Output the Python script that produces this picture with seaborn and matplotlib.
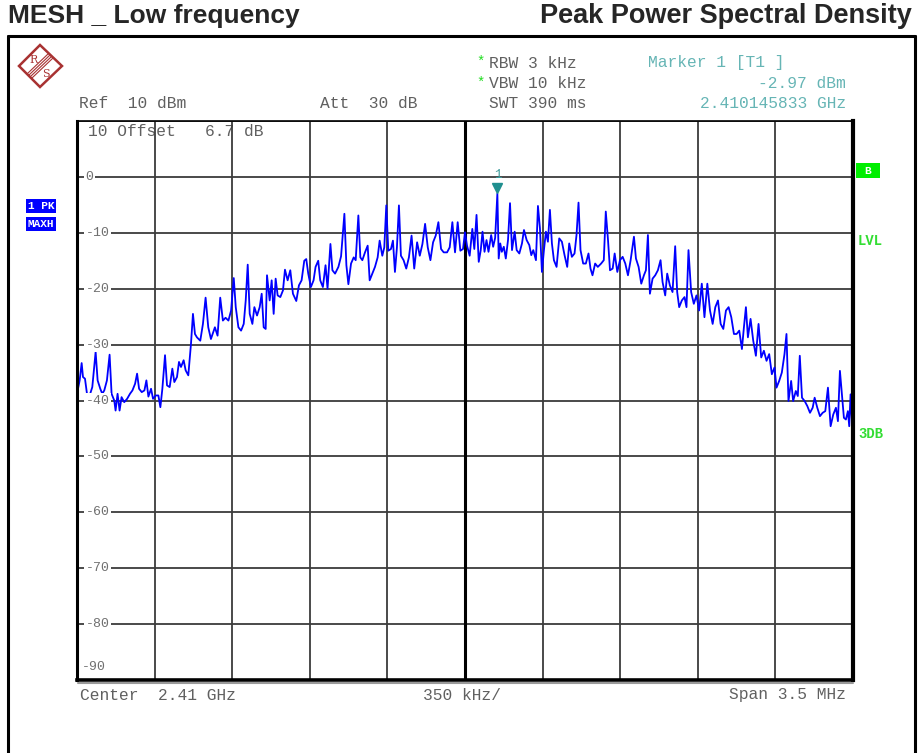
import numpy as np
import pandas as pd
import seaborn as sns
import matplotlib.pyplot as plt
from matplotlib.lines import Line2D
from matplotlib.patches import Polygon, Rectangle
from matplotlib.transforms import offset_copy, blended_transform_factory

# trace: offset from span start (kHz) and level (dBm)
freq_khz = [
    3, 12, 21, 27, 36, 45, 57, 69, 84, 93,
    105, 114, 123, 135, 147, 156, 168, 174, 183, 192,
    201, 213, 226, 239, 250, 262, 271, 280, 292, 304,
    313, 322, 334, 343, 355, 367, 376, 385, 397, 406,
    418, 430, 439, 451, 460, 469, 481, 490, 502, 514,
    523, 532, 541, 556, 568, 580, 592, 604, 622, 634,
    646, 658, 670, 683, 695, 707, 716, 728, 740, 752,
    761, 770, 779, 791, 800, 812, 824, 833, 842, 851,
    857, 869, 878, 887, 896, 905, 917, 929, 938, 950,
    962, 974, 989, 1001, 1013, 1025, 1034, 1043, 1055, 1067,
    1076, 1088, 1097, 1109, 1121, 1130, 1143, 1152, 1164, 1179,
    1191, 1206, 1215, 1224, 1236, 1248, 1257, 1269, 1278, 1287,
    1299, 1311, 1320, 1332, 1344, 1356, 1365, 1377, 1386, 1395,
    1404, 1416, 1425, 1434, 1443, 1452, 1461, 1473, 1485, 1497,
    1509, 1521, 1534, 1546, 1558, 1570, 1582, 1594, 1606, 1618,
    1630, 1642, 1654, 1669, 1681, 1693, 1705, 1717, 1729, 1741,
    1750, 1759, 1771, 1783, 1792,
    1802, 1812, 1821, 1829, 1838, 1847, 1856, 1868, 1877, 1886, 1896,
    1902, 1909, 1916, 1925, 1934, 1944, 1953, 1962, 1974, 1983,
    1995, 2007, 2016, 2028, 2040, 2049, 2058, 2070, 2079, 2088,
    2097, 2106, 2115, 2124, 2133, 2142, 2151, 2163, 2175, 2187,
    2199, 2211, 2220, 2232, 2244, 2253, 2262, 2271, 2283, 2295,
    2307, 2316, 2325, 2337, 2349, 2364, 2376, 2385, 2395, 2404,
    2416, 2425, 2437, 2449, 2461, 2473, 2485, 2497, 2512, 2521,
    2533, 2545, 2557, 2566, 2575, 2584, 2596, 2608, 2620, 2632,
    2641, 2653, 2662, 2674, 2686, 2698, 2707, 2716, 2728, 2740,
    2749, 2758, 2770, 2782, 2794, 2806, 2818, 2830, 2843, 2855,
    2867, 2879, 2891, 2903, 2915, 2927, 2939, 2951, 2963, 2975,
    2987, 2999, 3008, 3017, 3026, 3038, 3050, 3062, 3074, 3086,
    3098, 3110, 3122, 3134, 3146, 3155, 3167, 3179, 3191, 3200,
    3209, 3221, 3230, 3242, 3251, 3260, 3270, 3282, 3294, 3306,
    3318, 3327, 3339, 3351, 3363, 3375, 3387, 3399, 3411, 3423,
    3432, 3441, 3450, 3459, 3468, 3477, 3483, 3489, 3497,
]
level_dbm = [
    -38.2, -36.4, -33.3, -35.8, -36.1, -38.8, -39.1, -37.6, -31.3, -36.4,
    -37.9, -38.8, -38.2, -36.4, -31.8, -38.8, -40.0, -41.8, -38.8, -41.8,
    -39.4, -40.3, -39.7, -38.8, -38.2, -37.0, -35.2, -37.9, -38.5, -38.2,
    -36.4, -39.3, -37.9, -39.7, -39.1, -39.1, -41.2, -37.9, -31.9, -37.3,
    -37.6, -34.3, -36.7, -35.8, -33.1, -34.0, -32.8, -34.6, -35.5, -29.9,
    -24.5, -28.1, -28.7, -29.3, -26.3, -21.6, -26.9, -29.0, -26.9, -28.4,
    -21.6, -25.7, -25.2, -25.7, -23.9, -18.1, -23.3, -26.9, -27.5, -26.3,
    -22.1, -15.7, -24.5, -26.3, -23.3, -24.8, -23.3, -20.9, -26.9, -27.2,
    -17.6, -22.1, -18.5, -24.5, -18.2, -21.2, -21.5, -20.3, -16.6, -18.5,
    -16.7, -20.9, -22.2, -19.4, -18.5, -15.0, -14.7, -17.3, -19.7, -18.5,
    -16.1, -15.0, -18.5, -19.7, -15.8, -20.0, -12.0, -16.7, -17.3, -16.1,
    -14.2, -6.6, -15.8, -19.2, -15.5, -14.4, -14.9, -6.9, -14.4, -14.9,
    -13.5, -12.3, -18.5, -17.3, -16.1, -14.4, -11.4, -14.1, -12.6, -5.1,
    -13.2, -12.9, -11.4, -17.0, -12.6, -5.1, -14.1, -14.9, -16.4, -14.4,
    -10.5, -16.4, -11.7, -14.1, -12.0, -8.4, -12.6, -14.9, -11.7, -10.5,
    -8.1, -12.9, -13.5, -13.5, -12.6, -8.1, -13.5, -8.1, -13.2, -12.9,
    -9.9, -12.3, -14.1, -9.3, -12.9,
    -6.8, -15.2, -13.1, -9.8, -13.4, -11.3, -13.4, -10.4, -12.5, -10.9, -2.97,
    -14.6, -11.9, -13.4, -12.5, -14.6, -11.3, -4.7, -13.1, -9.8, -13.1,
    -13.7, -11.9, -9.5, -11.3, -12.2, -14.0, -13.1, -14.9, -5.2, -9.2,
    -17.0, -13.1, -9.8, -11.6, -5.9, -11.9, -14.9, -16.1, -11.0, -11.6,
    -14.0, -16.1, -11.9, -14.3, -13.7, -10.4, -4.6, -13.1, -15.5, -15.5,
    -13.7, -16.4, -17.6, -15.5, -16.1, -15.5, -14.9, -6.2, -11.3, -16.7,
    -16.4, -13.7, -17.0, -14.9, -14.3, -15.5, -17.6, -14.9, -10.7, -14.6,
    -16.1, -19.1, -17.6, -16.7, -10.4, -20.9, -18.2, -17.6, -16.7, -14.9,
    -18.8, -21.2, -17.3, -19.4, -20.6, -12.4, -20.6, -23.3, -22.1, -21.5,
    -23.3, -13.1, -20.6, -22.7, -21.2, -23.9, -19.1, -25.1, -19.1, -23.9,
    -26.3, -23.3, -22.1, -26.3, -27.2, -23.9, -23.3, -25.1, -28.1, -28.1,
    -27.5, -30.8, -26.9, -23.3, -28.7, -25.4, -29.3, -32.0, -26.3, -32.3,
    -31.1, -32.9, -31.7, -35.3, -34.1, -37.7, -36.5, -35.0, -31.7, -28.1,
    -40.1, -36.5, -40.1, -38.3, -39.2, -32.0, -39.5, -40.1, -41.0, -42.2,
    -41.3, -39.5, -41.3, -42.8, -42.2, -41.9, -37.7, -44.6, -42.5, -41.3,
    -43.7, -34.7, -38.9, -43.1, -43.4, -41.9, -44.6, -38.9, -44.8,
]

span_khz = 3500
div_khz = 350
ref_level = 10
bottom_level = -90
y_labels = ["0", "-10", "-20", "-30", "-40", "-50", "-60", "-70", "-80"]
y_label_values = [0, -10, -20, -30, -40, -50, -60, -70, -80]

marker_khz = 1896
marker_dbm = -2.97

W, H = 918, 753


def fx(x):
    return x / W


def fy(y):
    return 1 - y / H


sns.set_style("white")
plt.rcParams['font.family'] = ['Liberation Mono', 'DejaVu Sans Mono']
mono = ['Liberation Mono', 'DejaVu Sans Mono']
grey = '#606060'
teal = '#66b5b5'
green = '#22dd22'

fig = plt.figure(figsize=(9.18, 7.53), dpi=100)
ax = fig.add_axes([fx(77), fy(680), 776 / W, 559 / H])

df = pd.DataFrame({"freq": freq_khz, "level": level_dbm})
sns.lineplot(data=df, x="freq", y="level", ax=ax, color="#0000ff",
             linewidth=1.3, estimator=None, sort=False, zorder=2)

ax.set_xlim(0, span_khz)
ax.set_ylim(bottom_level, ref_level)
ax.set_xticks(np.arange(0, span_khz + 1, div_khz))
ax.set_yticks(np.arange(bottom_level, ref_level + 1, 10))
ax.grid(True, color='#3c3c3c', linewidth=1.3)
ax.set_axisbelow(True)
ax.tick_params(length=0, labelbottom=False, labelleft=False)
ax.set_xlabel('')
ax.set_ylabel('')
ax.axvline(span_khz / 2, color='black', linewidth=2.2, zorder=1)
for side, lw in [('left', 2.2), ('right', 3.0), ('bottom', 2.6), ('top', 1.2)]:
    ax.spines[side].set_visible(True)
    ax.spines[side].set_color('black')
    ax.spines[side].set_linewidth(lw)

# level labels sitting on the grid lines
ytrans = blended_transform_factory(ax.transAxes, ax.transData)
for lab, val in zip(y_labels, y_label_values):
    ax.text(0.011, val, lab, transform=ytrans, ha='left', va='center',
            fontsize=9.5, color='#707070', family=mono, zorder=3,
            bbox=dict(facecolor='white', edgecolor='none', pad=1.0))
ax.text(0.014, ref_level - 1.9, "10 Offset   6.7 dB", transform=ytrans,
        ha='left', va='center', fontsize=11.7, color='#606060', family=mono, zorder=0.5)
ax.text(0.006, bottom_level + 2.4, "-90", transform=ytrans, ha='left',
        va='center', fontsize=9.5, color='#707070', family=mono)

# marker 1
ax.plot([marker_khz], [marker_dbm], marker='v', markersize=7, color='#1f8f8f',
        linestyle='none', transform=offset_copy(ax.transData, fig=fig, y=6, units='dots'))
ax.annotate("1", xy=(marker_khz, marker_dbm), xytext=(0, 19), textcoords='offset pixels',
            ha='center', va='center', color='#3a9a9a', fontsize=9, family=mono)

# shadow under bottom frame
fig.add_artist(Line2D([fx(78), fx(853)], [fy(683), fy(683)], color='#9a9a9a',
                      linewidth=1.5, transform=fig.transFigure))

# outer box
for xs, ys in [([8, 915], [36, 36]), ([8, 8], [36, 753]), ([915, 915], [36, 753])]:
    fig.add_artist(Line2D([fx(v) for v in xs], [fy(v) for v in ys], color='black',
                          linewidth=2.2, transform=fig.transFigure))

# titles
fig.text(fx(8), fy(16), "MESH _ Low frequency", fontsize=19, fontweight='bold',
         family=['Liberation Sans', 'DejaVu Sans'], ha='left', va='center')
fig.text(fx(912), fy(16), "Peak Power Spectral Density", fontsize=19.5, fontweight='bold',
         family=['Liberation Sans', 'DejaVu Sans'], ha='right', va='center')

# header texts
fs = 11.7
fig.text(fx(79), fy(104), "Ref  10 dBm", fontsize=fs, color=grey, va='center')
fig.text(fx(320), fy(104), "Att  30 dB", fontsize=fs, color=grey, va='center')
fig.text(fx(489), fy(63), "RBW 3 kHz", fontsize=fs, color=grey, va='center')
fig.text(fx(489), fy(84), "VBW 10 kHz", fontsize=fs, color=grey, va='center')
fig.text(fx(489), fy(104), "SWT 390 ms", fontsize=fs, color=grey, va='center')
fig.text(fx(481), fy(62), "*", fontsize=10, color=green, ha='center', va='center')
fig.text(fx(481), fy(83), "*", fontsize=10, color=green, ha='center', va='center')
fig.text(fx(648), fy(63), "Marker 1 [T1 ]", fontsize=fs, color=teal, va='center')
fig.text(fx(846), fy(84), f"{marker_dbm:.2f} dBm", fontsize=fs, color=teal,
         ha='right', va='center')
fig.text(fx(846), fy(104), "2.410145833 GHz", fontsize=fs, color=teal,
         ha='right', va='center')

# footer texts
fig.text(fx(80), fy(695), "Center  2.41 GHz", fontsize=fs, color=grey, va='center')
fig.text(fx(462), fy(695), "350 kHz/", fontsize=fs, color=grey, ha='center', va='center')
fig.text(fx(846), fy(695), "Span 3.5 MHz", fontsize=fs, color=grey, ha='right', va='center')

# trace info boxes on the left
fig.text(fx(41), fy(206), "1 PK", fontsize=8, color='white', fontweight='bold',
         ha='center', va='center',
         bbox=dict(facecolor='#0000ff', edgecolor='none', pad=1.6))
fig.text(fx(41), fy(224), "MAXH", fontsize=8, color='white', fontweight='bold',
         ha='center', va='center',
         bbox=dict(facecolor='#0000ff', edgecolor='none', pad=1.6))

# right side flags
fig.add_artist(Rectangle((fx(856), fy(178)), 24 / W, 15 / H, facecolor='#00ee00',
                         edgecolor='none', transform=fig.transFigure))
fig.text(fx(868), fy(170.5), "B", fontsize=8, color='white', fontweight='bold',
         ha='center', va='center')
fig.text(fx(858), fy(241), "LVL", fontsize=10, color='#33dd33', fontweight='bold',
         ha='left', va='center')
fig.text(fx(858), fy(434), "3DB", fontsize=10, color='#33dd33', fontweight='bold',
         ha='left', va='center')

# R&S logo
logo_red = '#a83232'
diamond = [(40, 45), (62, 66), (40, 87), (19, 66)]
fig.add_artist(Polygon([(fx(a), fy(b)) for a, b in diamond], closed=True, fill=False,
                       edgecolor=logo_red, linewidth=1.8, transform=fig.transFigure))
for d in (-2.5, -1, 0.5, 2):
    fig.add_artist(Line2D([fx(30 + d), fx(51 + d)], [fy(76 + d), fy(56 + d)],
                          color=logo_red, linewidth=0.8, transform=fig.transFigure))
fig.text(fx(34), fy(60), "R", fontsize=8, color=logo_red, family='DejaVu Serif',
         ha='center', va='center')
fig.text(fx(46), fy(74), "S", fontsize=8, color=logo_red, family='DejaVu Serif',
         ha='center', va='center')

fig.savefig('out.png', dpi=100)
